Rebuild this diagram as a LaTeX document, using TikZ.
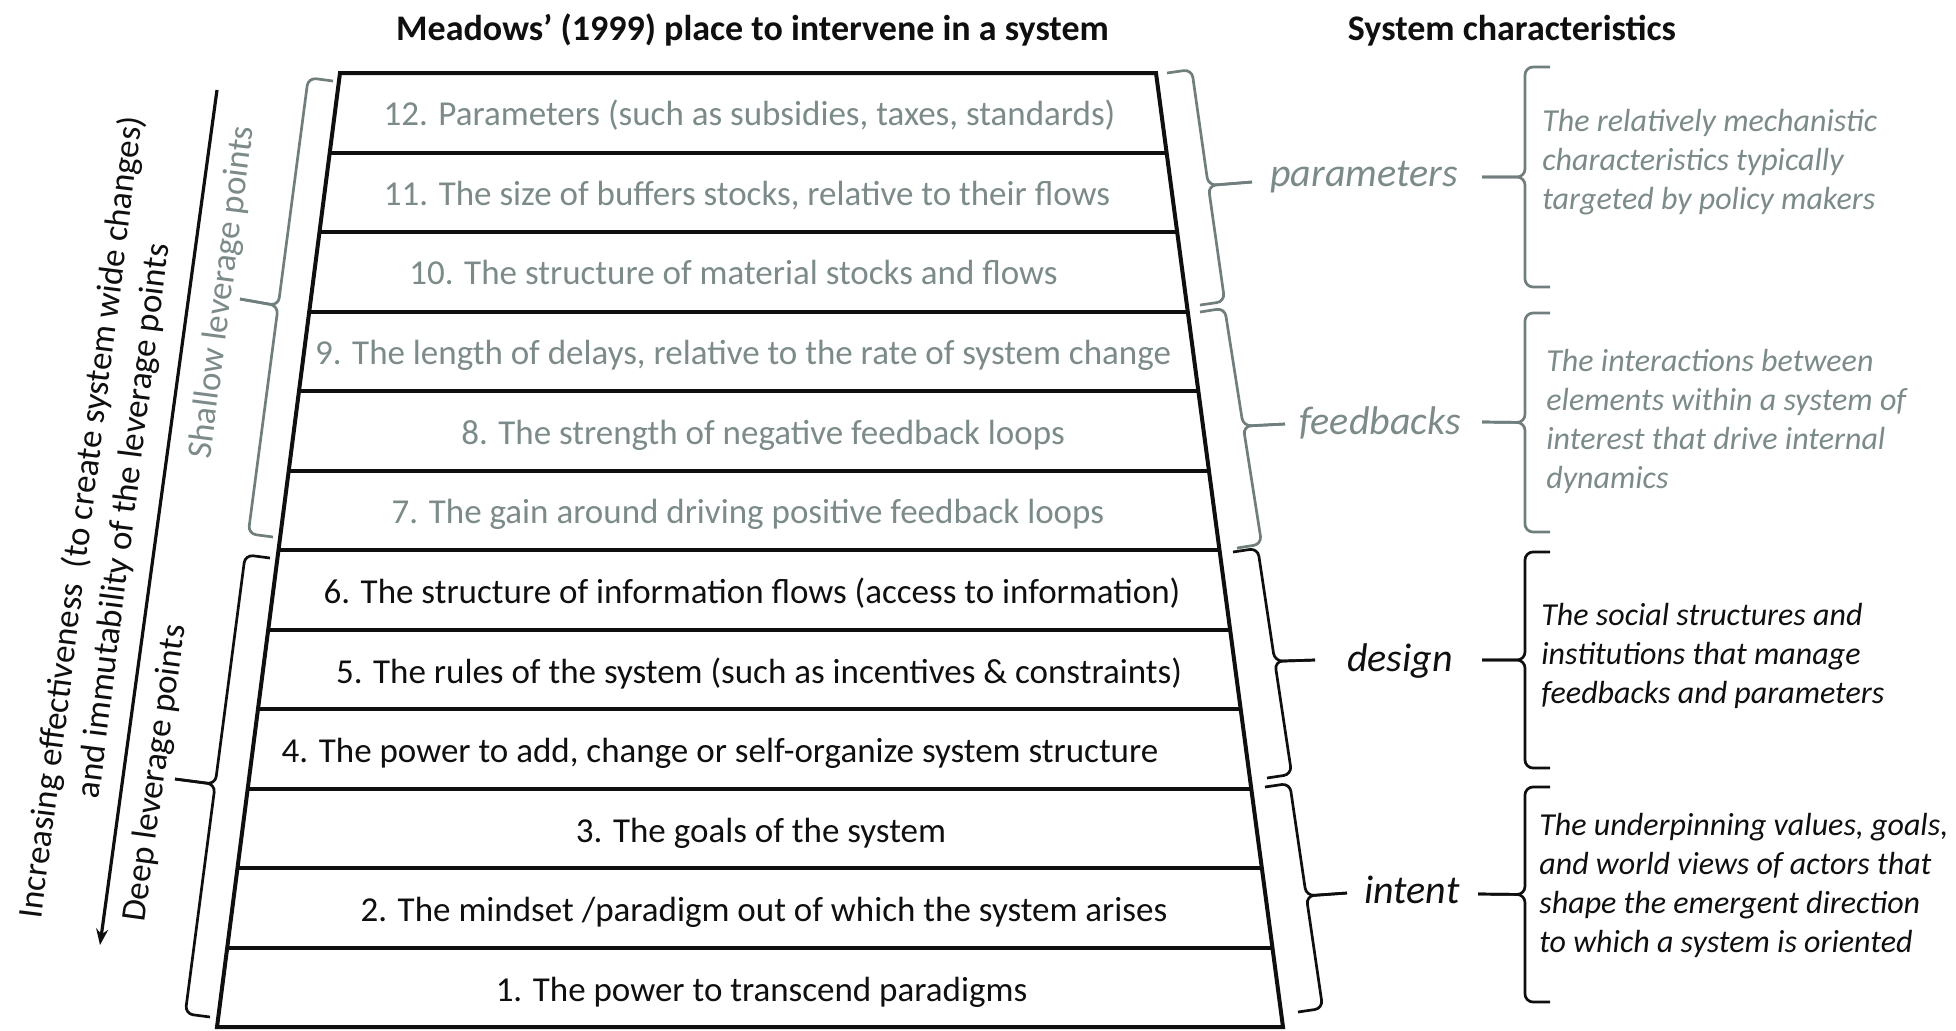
\documentclass[tikz,border=0pt]{standalone}
\usepackage{fontspec}
\setmainfont{Carlito}
\usetikzlibrary{calc,arrows.meta}
\definecolor{softgray}{RGB}{124,138,138}
\definecolor{bracegray}{RGB}{112,126,126}
\definecolor{inkblack}{RGB}{15,15,15}
\newcommand{\drawbrace}[5]{%
  \path ($(#2)!12.5pt!90:(#3)$) coordinate (#5a)
        ($(#3)!12.5pt!-90:(#2)$) coordinate (#5b)
        ($(#5a)!0.5!(#5b)$) coordinate (#5m);
  \draw[#1, rounded corners=4pt] (#2) -- (#5a) -- (#5m) -- (#4);
  \draw[#1, rounded corners=4pt] (#3) -- (#5b) -- (#5m) -- (#4);
}
\begin{document}
\begin{tikzpicture}[x=0.5pt,y=-0.5pt,
  rowtext/.style={font=\fontsize{17.5}{21}\selectfont, inner sep=0pt, text height=11pt, text depth=0pt, anchor=center, text=inkblack},
  graytext/.style={text=softgray},
  titletext/.style={font=\bfseries\fontsize{18}{22}\selectfont, inner sep=0pt, text height=11.4pt, text depth=0pt, text=inkblack},
  sidetext/.style={font=\fontsize{17.5}{21}\selectfont, inner sep=0pt, text height=11pt, text depth=0pt, text=inkblack},
  wordtext/.style={font=\itshape\fontsize{20}{24}\selectfont, inner sep=0pt, anchor=base, text=inkblack},
  desctext/.style={font=\itshape\fontsize{16}{19.5}\selectfont, inner sep=0pt, anchor=base west, text=inkblack},
  outline/.style={line width=2pt, draw=inkblack},
  gbrace/.style={line width=1.35pt, draw=bracegray},
  kbrace/.style={line width=1.35pt, draw=inkblack}
]
\useasboundingbox (0,0) rectangle (1956,1030);

% ---------- titles
\node[titletext] (t1) at (752.5,29) {Meadows’ (1999) place to intervene in a system};
\node[titletext] (t2) at (1512,29) {System characteristics};

% ---------- trapezoid
\coordinate (TL) at (340,73);
\coordinate (TR) at (1156,73);
\coordinate (BL) at (217,1027);
\coordinate (BR) at (1283,1027);
\draw[outline] (TL) -- (TR) -- (BR) -- (BL) -- cycle;
\foreach \k in {1,...,11}{
  \draw[outline] ($(TL)!\k/12!(BL)$) -- ($(TR)!\k/12!(BR)$);
}

% ---------- rows
\node[rowtext, graytext] (r12) at (749.5,114) {12. Parameters (such as subsidies, taxes, standards)};
\node[rowtext, graytext] (r11) at (747,194) {11. The size of buffers stocks, relative to their flows};
\node[rowtext, graytext] (r10) at (733.5,273.5) {10. The structure of material stocks and flows};
\node[rowtext, graytext] (r9) at (743,353) {9. The length of delays, relative to the rate of system change};
\node[rowtext, graytext] (r8) at (763,433) {8. The strength of negative feedback loops};
\node[rowtext, graytext] (r7) at (748,512.5) {7. The gain around driving positive feedback loops};
\node[rowtext] (r6) at (752,592.5) {6. The structure of information flows (access to information)};
\node[rowtext] (r5) at (759,672) {5. The rules of the system (such as incentives \& constraints)};
\node[rowtext] (r4) at (720,751.5) {4. The power to add, change or self-organize system structure};
\node[rowtext] (r3) at (761,831) {3. The goals of the system};
\node[rowtext] (r2) at (764,910.5) {2. The mindset /paradigm out of which the system arises};
\node[rowtext] (r1) at (761.5,990) {1. The power to transcend paradigms};

% ---------- left side
\coordinate (arrS) at (217,90);
\coordinate (arrE) at (100,945);
\draw[line width=1.6pt, draw=inkblack, -{Stealth[length=8pt,width=6pt]}] (arrS) -- (arrE);
\node[sidetext, rotate=82.8] (inc1) at (81,517) {Increasing effectiveness\ \ (to create system wide changes)};
\node[sidetext, rotate=82.8] (inc2) at (123,521) {and immutability of the leverage points};
\node[sidetext, graytext, rotate=82.6] (shallow) at (221,292) {Shallow leverage points};
\node[sidetext, rotate=82.2] (deep) at (154,773) {Deep leverage points};

\coordinate (shA) at (273,537); \coordinate (shB) at (333,81); \coordinate (shT) at (240,299);
\drawbrace{gbrace}{shA}{shB}{shT}{sh}
\coordinate (dpA) at (210,1017); \coordinate (dpB) at (270,558); \coordinate (dpT) at (175,779);
\drawbrace{kbrace}{dpA}{dpB}{dpT}{dp}

% ---------- right side: first braces
\coordinate (paA) at (1167,73); \coordinate (paB) at (1200,305); \coordinate (paT) at (1252,182);
\drawbrace{gbrace}{paA}{paB}{paT}{pa}
\coordinate (feA) at (1200,312); \coordinate (feB) at (1237,548); \coordinate (feT) at (1285,424);
\drawbrace{gbrace}{feA}{feB}{feT}{fe}
\coordinate (deA) at (1233,552); \coordinate (deB) at (1267,778); \coordinate (deT) at (1315,660);
\drawbrace{kbrace}{deA}{deB}{deT}{de}
\coordinate (inA) at (1265,787); \coordinate (inB) at (1298,1012); \coordinate (inT) at (1347,893);
\drawbrace{kbrace}{inA}{inB}{inT}{in}

% ---------- words
\node[wordtext, graytext] (wpar) at (1364,186) {parameters};
\node[wordtext, graytext] (wfee) at (1380,434) {feedbacks};
\node[wordtext] (wdes) at (1400,671) {design};
\node[wordtext] (wint) at (1412,903) {intent};

% ---------- second braces
\coordinate (pbA) at (1550,287); \coordinate (pbB) at (1550,67); \coordinate (pbT) at (1482,177);
\drawbrace{gbrace}{pbA}{pbB}{pbT}{pb}
\coordinate (fbA) at (1550,532); \coordinate (fbB) at (1550,313); \coordinate (fbT) at (1482,422);
\drawbrace{gbrace}{fbA}{fbB}{fbT}{fb}
\coordinate (dbA) at (1550,768); \coordinate (dbB) at (1550,552); \coordinate (dbT) at (1482,660);
\drawbrace{kbrace}{dbA}{dbB}{dbT}{db}
\coordinate (ibA) at (1550,1002); \coordinate (ibB) at (1550,787); \coordinate (ibT) at (1478,894);
\drawbrace{kbrace}{ibA}{ibB}{ibT}{ib}

% ---------- descriptions
\node[desctext, graytext] (dpar) at (1542,131) {\begin{tabular}[t]{@{}l@{}}The relatively mechanistic\\characteristics typically\\targeted by policy makers\end{tabular}};
\node[desctext, graytext] (dfee) at (1546,371) {\begin{tabular}[t]{@{}l@{}}The interactions between\\elements within a system of\\interest that drive internal\\dynamics\end{tabular}};
\node[desctext] (ddes) at (1541,625) {\begin{tabular}[t]{@{}l@{}}The social structures and\\institutions that manage\\feedbacks and parameters\end{tabular}};
\node[desctext] (dint) at (1539,835) {\begin{tabular}[t]{@{}l@{}}The underpinning values, goals,\\and world views of actors that\\shape the emergent direction\\to which a system is oriented\end{tabular}};
\end{tikzpicture}
\end{document}
